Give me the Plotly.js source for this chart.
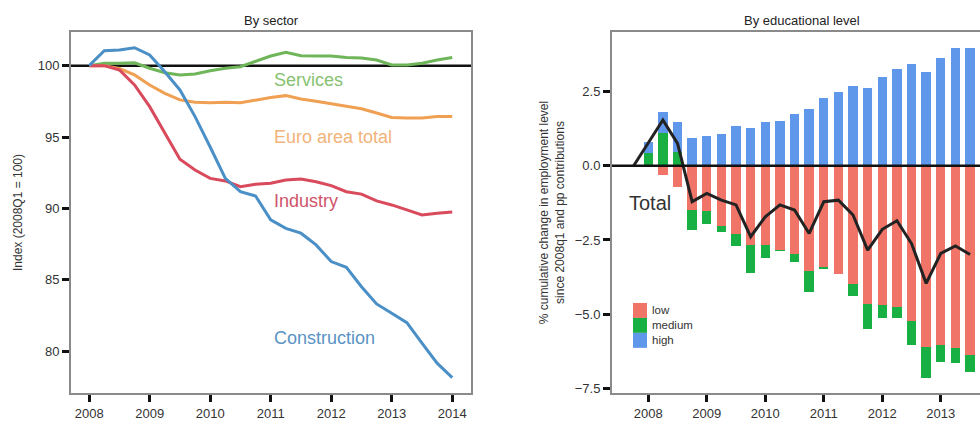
<!DOCTYPE html>
<html>
<head>
<meta charset="utf-8">
<script src="https://cdn.plot.ly/plotly-3.0.1.min.js"></script>
<style>html,body{margin:0;padding:0;background:#fff;overflow:hidden}#chart{width:980px;height:421px}</style>
</head>
<body>
<div id="chart"></div>
<script>
// ---- Left panel: by sector (index 2008Q1 = 100), quarterly 2008Q1..2014Q1
const sectorQuarters = [2008.0,2008.25,2008.5,2008.75,2009.0,2009.25,2009.5,2009.75,2010.0,2010.25,2010.5,2010.75,2011.0,2011.25,2011.5,2011.75,2012.0,2012.25,2012.5,2012.75,2013.0,2013.25,2013.5,2013.75,2014.0];
const services     = [100,100.17,100.17,100.2,99.82,99.51,99.35,99.42,99.65,99.82,99.93,100.28,100.68,100.94,100.7,100.68,100.68,100.58,100.54,100.4,100.05,100.05,100.17,100.4,100.58];
const euroTotal    = [100,100,99.8,99.35,98.65,98.06,97.6,97.43,97.4,97.43,97.4,97.6,97.77,97.9,97.67,97.5,97.33,97.2,96.98,96.68,96.37,96.33,96.33,96.44,96.44];
const industry     = [100,100,99.7,98.65,97.13,95.26,93.44,92.69,92.1,91.92,91.52,91.69,91.76,91.99,92.06,91.87,91.59,91.17,91.0,90.52,90.24,89.89,89.54,89.66,89.75];
const construction = [100,101.05,101.1,101.26,100.75,99.58,98.3,96.43,94.3,92.1,91.17,90.87,89.19,88.6,88.26,87.44,86.27,85.87,84.51,83.3,82.65,81.99,80.55,79.15,78.14];
const sectorNames  = ["Services","Euro area total","Industry","Construction"];

// ---- Right panel: by educational level (pp contributions), quarterly bars
const eduQuarters = [2008.0,2008.25,2008.5,2008.75,2009.0,2009.25,2009.5,2009.75,2010.0,2010.25,2010.5,2010.75,2011.0,2011.25,2011.5,2011.75,2012.0,2012.25,2012.5,2012.75,2013.0,2013.25,2013.5];
const lowEdu    = [-0.05,-0.31,-0.73,-1.49,-1.53,-2.02,-2.3,-2.67,-2.67,-2.84,-2.97,-3.54,-3.42,-3.65,-3.98,-4.66,-4.69,-4.75,-5.22,-6.09,-6.04,-6.12,-6.37];
const mediumEdu = [0.44,1.09,0.47,-0.67,-0.42,-0.22,-0.4,-0.95,-0.45,-0.02,-0.26,-0.71,-0.05,0,-0.4,-0.84,-0.42,-0.36,-0.82,-1.07,-0.56,-0.52,-0.58];
const highEdu   = [0.37,0.73,0.99,0.92,1.0,1.07,1.35,1.26,1.46,1.5,1.73,1.91,2.27,2.49,2.69,2.6,3.0,3.25,3.41,3.16,3.64,3.95,3.95];
const totalQuarters = [2007.75,2008.0,2008.25,2008.5,2008.75,2009.0,2009.25,2009.5,2009.75,2010.0,2010.25,2010.5,2010.75,2011.0,2011.25,2011.5,2011.75,2012.0,2012.25,2012.5,2012.75,2013.0,2013.25,2013.5];
const totalEdu  = [0,0.75,1.54,0.75,-1.21,-0.93,-1.16,-1.32,-2.39,-1.72,-1.32,-1.49,-2.28,-1.21,-1.16,-1.66,-2.84,-2.14,-1.85,-2.62,-3.96,-2.95,-2.7,-2.99];
const eduNames  = ["low","medium","high"];

// ---- styling
const W = 980, H = 421, ML = 71, MT = 32, MB = 28;
const PW = W - ML, PH = H - MT - MB;
const px = x => (x - ML) / PW;
const py = y => (H - MB - y) / PH;
const FONT = "Liberation Sans, Arial, sans-serif";
const lineColors = ["#6fb55a","#f0a052","#d94a5c","#4a8fc6"];
const labelColors = ["#86c270","#f2b37a","#d0546a","#5a93c4"];
const eduColors = ["#f07468","#19b043","#5f97ea"];

const traces = [];
const sectorSeries = [services, euroTotal, industry, construction];
sectorSeries.forEach((s, i) => {
  traces.push({type:"scatter", mode:"lines", x:sectorQuarters, y:s, name:sectorNames[i],
    xaxis:"x", yaxis:"y", line:{color:lineColors[i], width:3}, showlegend:false, hoverinfo:"x+y+name"});
});
[lowEdu, mediumEdu, highEdu].forEach((s, i) => {
  traces.push({type:"bar", x:eduQuarters, y:s, name:eduNames[i], xaxis:"x2", yaxis:"y2",
    marker:{color:eduColors[i], line:{width:0}}, width:0.16, showlegend:false});
});
traces.push({type:"scatter", mode:"lines", x:totalQuarters, y:totalEdu, name:"Total",
  xaxis:"x2", yaxis:"y2", line:{color:"#222", width:3}, showlegend:false});

const tickFont = {family:FONT, size:13, color:"#333"};
const axisCommon = {showgrid:false, zeroline:false, showline:true, linecolor:"#8a8a8a", linewidth:2,
  ticks:"outside", ticklen:7, tickwidth:3, tickcolor:"#111", tickfont:tickFont, automargin:false};

const annotations = [
  {text:"By sector", x:px(271), y:1, xref:"paper", yref:"paper", yshift:12, showarrow:false, font:{family:FONT,size:13,color:"#222"}, xanchor:"center", yanchor:"middle"},
  {text:"By educational level", x:px(802), y:1, xref:"paper", yref:"paper", yshift:12, showarrow:false, font:{family:FONT,size:13,color:"#222"}, xanchor:"center", yanchor:"middle"},
  {text:"Services", x:2011.02, y:99.0, xref:"x", yref:"y", showarrow:false, xanchor:"left", yanchor:"middle", font:{family:FONT,size:18,color:labelColors[0]}},
  {text:"Euro area total", x:2011.02, y:95.0, xref:"x", yref:"y", showarrow:false, xanchor:"left", yanchor:"middle", font:{family:FONT,size:18,color:labelColors[1]}},
  {text:"Industry", x:2011.02, y:90.5, xref:"x", yref:"y", showarrow:false, xanchor:"left", yanchor:"middle", font:{family:FONT,size:18,color:labelColors[2]}},
  {text:"Construction", x:2011.02, y:80.9, xref:"x", yref:"y", showarrow:false, xanchor:"left", yanchor:"middle", font:{family:FONT,size:18,color:labelColors[3]}},
  {text:"Total", x:2007.64, y:-1.26, xref:"x2", yref:"y2", showarrow:false, xanchor:"left", yanchor:"middle", font:{family:FONT,size:20,color:"#333"}}
];
const shapes = [
  {type:"line", xref:"x domain", yref:"y", x0:0, x1:1, y0:100, y1:100, line:{color:"#111", width:2.5}, layer:"below"},
  {type:"line", xref:"x2 domain", yref:"y2", x0:0, x1:1, y0:0, y1:0, line:{color:"#111", width:2.5}, layer:"above"}
];
// manual compact legend: one multi-line text block beside stacked colour squares
const legFont = 11.5, legStep = legFont * 1.3, legTop = 303;
eduNames.forEach((n, i) => {
  const top = legTop + i*legStep;
  shapes.push({type:"rect", xref:"paper", yref:"paper", x0:px(633), x1:px(647), y0:py(top+legStep), y1:py(top), fillcolor:eduColors[i], line:{width:0}});
});
annotations.push({text:eduNames.join("<br>"), x:px(650), y:py(legTop + 1.5*legStep), xref:"paper", yref:"paper", showarrow:false, xanchor:"left", yanchor:"middle", align:"left", font:{family:FONT,size:legFont,color:"#333"}});

const layout = {
  width:W, height:H, margin:{l:ML, r:0, t:MT, b:MB, pad:0},
  paper_bgcolor:"#fff", plot_bgcolor:"#fff", barmode:"relative", bargap:0,
  font:{family:FONT, color:"#333"},
  xaxis: Object.assign({}, axisCommon, {domain:[0, px(471)], range:[2007.70, 2014.31], tickmode:"linear", tick0:2008, dtick:1, mirror:true}),
  yaxis: Object.assign({}, axisCommon, {domain:[0,1], range:[77.06, 102.36], tickmode:"array", tickvals:[80,85,90,95,100], mirror:true,
    title:{text:"Index (2008Q1 = 100)", font:{family:FONT,size:12,color:"#333"}, standoff:12}}),
  xaxis2: Object.assign({}, axisCommon, {anchor:"y2", domain:[px(612), 1], range:[2007.38, 2013.67], tickmode:"linear", tick0:2008, dtick:1, mirror:true}),
  yaxis2: Object.assign({}, axisCommon, {anchor:"x2", domain:[0,1], range:[-7.65, 4.5], tickmode:"array", tickvals:[-7.5,-5,-2.5,0,2.5], ticktext:["\u22127.5","\u22125.0","\u22122.5","0.0","2.5"], mirror:false,
    title:{text:"% cumulative change in employment level<br>since 2008q1 and pp contributions", font:{family:FONT,size:12,color:"#333"}, standoff:8}}),
  annotations: annotations, shapes: shapes, showlegend:false
};
Plotly.newPlot("chart", traces, layout, {displayModeBar:false, staticPlot:true});
</script>
</body>
</html>
